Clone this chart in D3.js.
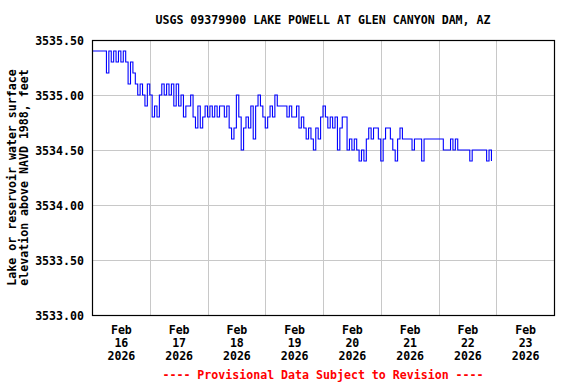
<!DOCTYPE html>
<html>
<head>
<meta charset="utf-8">
<script src="https://cdn.jsdelivr.net/npm/d3@7"></script>
<style>
  body { margin: 0; background: #fff; }
  svg { display: block; }
  text { font-family: "DejaVu Sans Mono", "Liberation Mono", monospace; font-weight: bold; font-size: 11.6px; }
</style>
</head>
<body>
<svg width="576" height="384"></svg>
<script>
// hourly gage height readings (feet), one array per day starting at 00:00
var feb16 = [3535.4, 3535.4, 3535.4, 3535.4, 3535.4, 3535.4, 3535.2, 3535.4, 3535.3, 3535.4, 3535.3, 3535.4,
             3535.3, 3535.4, 3535.3, 3535.1, 3535.3, 3535.2, 3535.1, 3535.0, 3535.1, 3535.0, 3534.9, 3535.1];
var feb17 = [3535.0, 3534.8, 3534.9, 3534.8, 3535.0, 3535.1, 3535.0, 3535.1, 3535.0, 3535.1, 3534.9, 3535.1,
             3534.9, 3535.0, 3534.8, 3534.9, 3534.9, 3535.0, 3534.8, 3534.7, 3534.9, 3534.7, 3534.8, 3534.9];
var feb18 = [3534.8, 3534.9, 3534.8, 3534.9, 3534.8, 3534.9, 3534.9, 3534.8, 3534.9, 3534.7, 3534.6, 3534.7,
             3535.0, 3534.8, 3534.5, 3534.7, 3534.8, 3534.7, 3534.9, 3534.6, 3534.9, 3535.0, 3534.9, 3534.8];
var feb19 = [3534.7, 3534.8, 3534.9, 3534.8, 3535.0, 3534.9, 3534.9, 3534.9, 3534.9, 3534.8, 3534.9, 3534.8,
             3534.8, 3534.9, 3534.7, 3534.8, 3534.7, 3534.6, 3534.7, 3534.6, 3534.5, 3534.7, 3534.6, 3534.8];
var feb20 = [3534.9, 3534.8, 3534.7, 3534.8, 3534.7, 3534.8, 3534.5, 3534.7, 3534.8, 3534.8, 3534.5, 3534.6,
             3534.5, 3534.6, 3534.5, 3534.4, 3534.5, 3534.4, 3534.6, 3534.7, 3534.6, 3534.7, 3534.7, 3534.6];
var feb21 = [3534.4, 3534.6, 3534.7, 3534.7, 3534.6, 3534.5, 3534.4, 3534.6, 3534.7, 3534.6, 3534.6, 3534.6,
             3534.6, 3534.5, 3534.6, 3534.6, 3534.6, 3534.4, 3534.6, 3534.6, 3534.6, 3534.6, 3534.6, 3534.6];
var feb22 = [3534.6, 3534.6, 3534.5, 3534.5, 3534.5, 3534.6, 3534.5, 3534.6, 3534.5, 3534.5, 3534.5, 3534.5,
             3534.5, 3534.4, 3534.5, 3534.5, 3534.5, 3534.5, 3534.5, 3534.5, 3534.4, 3534.5, 3534.4];

var days = [feb16, feb17, feb18, feb19, feb20, feb21, feb22];
var dayLabels = ["16", "17", "18", "19", "20", "21", "22", "23"];
var yTicks = [3533.0, 3533.5, 3534.0, 3534.5, 3535.0, 3535.5];

(function() {
  var svg = d3.select("svg"),
      plot = {left: 92, right: 554, top: 40, bottom: 315};

  var start = Date.UTC(2026, 1, 16);
  var points = [];
  days.forEach(function(vals, d) {
    vals.forEach(function(v, h) {
      points.push({t: new Date(start + (d * 24 + h) * 3600e3), v: v});
    });
  });

  var x = d3.scaleUtc()
    .domain([new Date(start), new Date(Date.UTC(2026, 1, 24))])
    .range([plot.left, plot.right]);
  var y = d3.scaleLinear().domain([3533, 3535.5]).range([plot.bottom, plot.top]);

  // grid
  var midnights = d3.utcDay.range(new Date(Date.UTC(2026, 1, 17)), new Date(Date.UTC(2026, 1, 24)));
  svg.append("g").selectAll("line").data(midnights).enter().append("line")
    .attr("x1", function(d) { return Math.round(x(d)) + 0.5; })
    .attr("x2", function(d) { return Math.round(x(d)) + 0.5; })
    .attr("y1", plot.top).attr("y2", plot.bottom)
    .attr("stroke", "#c8c8c8").attr("stroke-width", 1);

  svg.append("g").selectAll("line").data(yTicks.slice(1, -1)).enter().append("line")
    .attr("x1", plot.left).attr("x2", plot.right)
    .attr("y1", function(d) { return Math.round(y(d)) + 0.5; })
    .attr("y2", function(d) { return Math.round(y(d)) + 0.5; })
    .attr("stroke", "#c8c8c8").attr("stroke-width", 1);

  // data line
  svg.append("path")
    .datum(points)
    .attr("fill", "none")
    .attr("stroke", "#0000ff")
    .attr("stroke-width", 1.1)
    .attr("d", d3.line()
      .x(function(d) { return x(d.t); })
      .y(function(d) { return y(d.v); })
      .curve(d3.curveStepAfter));

  // frame
  svg.append("rect")
    .attr("x", plot.left + 0.5).attr("y", plot.top + 0.5)
    .attr("width", plot.right - plot.left).attr("height", plot.bottom - plot.top)
    .attr("fill", "none").attr("stroke", "#000").attr("stroke-width", 1.2);

  // y axis labels
  var yAxis = svg.append("g")
    .attr("transform", "translate(" + (plot.left - 8) + ",0)")
    .call(d3.axisLeft(y).tickValues(yTicks).tickSize(0).tickFormat(d3.format(".2f")));
  yAxis.select(".domain").remove();
  yAxis.selectAll("text").attr("x", 0).attr("dy", "0.35em").attr("fill", "#000")
    .style("font-size", "11.6px").style("font-family", null);
  yAxis.attr("font-family", null).attr("font-size", null);

  // x axis labels at noon of each day
  var noons = dayLabels.map(function(l, i) { return new Date(start + (i * 24 + 12) * 3600e3); });
  var xAxis = svg.append("g")
    .attr("transform", "translate(0," + plot.bottom + ")")
    .call(d3.axisBottom(x).tickValues(noons).tickSize(0).tickFormat(""));
  xAxis.attr("font-family", null).attr("font-size", null);
  xAxis.select(".domain").remove();
  xAxis.selectAll(".tick text").remove();
  xAxis.selectAll(".tick").each(function(d, i) {
    var t = d3.select(this).append("text")
      .attr("text-anchor", "middle").attr("fill", "#000");
    t.append("tspan").attr("x", 0).attr("y", 19).text("Feb");
    t.append("tspan").attr("x", 0).attr("y", 32).text(dayLabels[i]);
    t.append("tspan").attr("x", 0).attr("y", 45).text("2026");
  });

  // title
  svg.append("text")
    .attr("x", (plot.left + plot.right) / 2).attr("y", 24)
    .attr("text-anchor", "middle")
    .text("USGS 09379900 LAKE POWELL AT GLEN CANYON DAM, AZ");

  // y title
  var yt = svg.append("text")
    .attr("transform", "translate(16," + (plot.top + plot.bottom) / 2 + ") rotate(-90)")
    .attr("text-anchor", "middle");
  yt.append("tspan").attr("x", 0).attr("y", 0).text("Lake or reservoir water surface");
  yt.append("tspan").attr("x", 0).attr("y", 12).text("elevation above NAVD 1988, feet");

  // footer
  svg.append("text")
    .attr("x", (plot.left + plot.right) / 2).attr("y", 379)
    .attr("text-anchor", "middle")
    .attr("fill", "#ff0000")
    .text("---- Provisional Data Subject to Revision ----");
})();
</script>
</body>
</html>
